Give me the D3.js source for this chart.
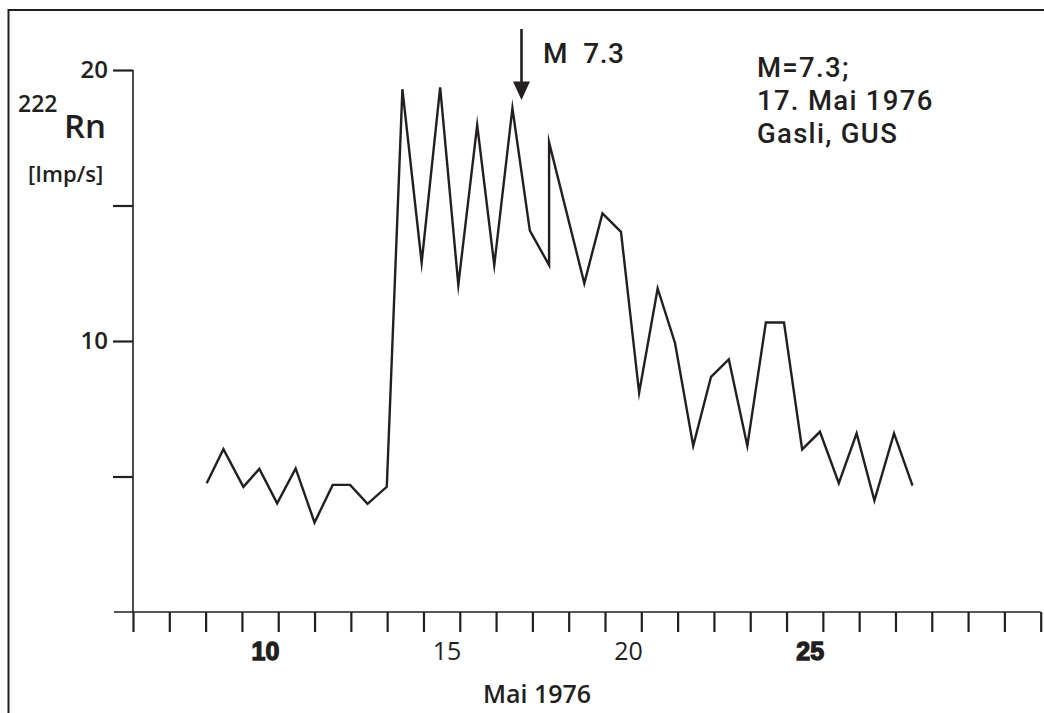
<!DOCTYPE html>
<html>
<head>
<meta charset="utf-8">
<script src="https://cdn.jsdelivr.net/npm/d3@7"></script>
<style>
  html, body { margin: 0; padding: 0; background: #fff; }
  svg { display: block; }
  text { font-family: "Open Sans", "Noto Sans", sans-serif; fill: #231f20; }
</style>
</head>
<body>
<svg id="chart" width="1044" height="713"></svg>
<script>
// ---- data ----
const days = [8.38, 8.84, 9.39, 9.83, 10.32, 10.83, 11.35, 11.85, 12.33, 12.81, 13.34,
  13.77, 14.30, 14.81, 15.31, 15.83, 16.30, 16.80, 17.28, 17.81, 17.81,
  18.78, 19.28, 19.79, 20.29, 20.80, 21.28, 21.78, 22.27, 22.76, 23.27,
  23.78, 24.28, 24.78, 25.27, 25.79, 26.28, 26.77, 27.31, 27.82];
const radon = [4.75, 6.01, 4.62, 5.28, 4.01, 5.30, 3.30, 4.69, 4.69, 3.99, 4.62,
  19.29, 12.89, 19.36, 12.07, 17.97, 12.80, 18.59, 14.07, 12.80, 17.33,
  12.13, 14.71, 14.03, 8.09, 11.94, 9.92, 6.13, 8.68, 9.32, 6.13,
  10.68, 10.68, 6.00, 6.65, 4.75, 6.59, 4.11, 6.59, 4.66];
const xTickDays = [6.35, 7.35, 8.35, 9.35, 10.35, 11.35, 12.35, 13.35, 14.35, 15.35,
  16.35, 17.35, 18.35, 19.35, 20.35, 21.35, 22.35, 23.35, 24.35, 25.35,
  26.35, 27.35, 28.35, 29.35, 30.35, 31.35];
const xLabelDays = [10, 15, 20, 25];
const xLabelText = ["10", "15", "20", "25"];
const xLabelHeavy = [true, false, false, true];
const yTickValues = [5, 10, 15, 20];
const yTickText = ["", "10", "", "20"];
const quakeDay = 17.05;
const quakeLabel = "M  7.3";
const infoLines = ["M=7.3;", "17. Mai 1976", "Gasli, GUS"];
const xTitle = "Mai 1976";

// ---- scales ----
const svg = d3.select("#chart");
const x = d3.scaleLinear().domain([6.35, 31.35]).range([133, 1040.7]);
const y = d3.scaleLinear().domain([0, 20]).range([612, 70]);
const ink = "#231f20";

// frame
svg.append("rect")
  .attr("x", 8.5).attr("y", 10).attr("width", 1050).attr("height", 740)
  .attr("fill", "none").attr("stroke", ink).attr("stroke-width", 2);

// x axis
const xAxis = d3.axisBottom(x).tickValues(xTickDays).tickSize(20).tickSizeOuter(0).tickFormat("");
const gx = svg.append("g").attr("transform", `translate(0,${y(0)})`).call(xAxis);
gx.select(".domain").remove();
gx.selectAll(".tick line").attr("stroke", ink).attr("stroke-width", 2.2);
svg.append("line")
  .attr("x1", x(6.35) - 19).attr("x2", x(31.35))
  .attr("y1", y(0)).attr("y2", y(0))
  .attr("stroke", ink).attr("stroke-width", 1.6);

// y axis
const yAxis = d3.axisLeft(y).tickValues(yTickValues).tickSize(20).tickSizeOuter(0)
  .tickPadding(5).tickFormat((d, i) => yTickText[i]);
const gy = svg.append("g").attr("transform", `translate(${x(6.35)},0)`).call(yAxis);
gy.select(".domain").attr("stroke", ink).attr("stroke-width", 1.6)
  .attr("d", `M0,${y(20)}V${y(0)}`);
gy.selectAll(".tick line").attr("stroke", ink).attr("stroke-width", 2.2);
gy.selectAll(".tick text")
  .style("font-family", '"Open Sans", sans-serif')
  .style("font-size", "24px").style("font-weight", 600).attr("fill", ink);

// x tick labels
svg.append("g").selectAll("text").data(xLabelDays).join("text")
  .attr("x", d => x(d))
  .attr("y", 660)
  .attr("text-anchor", "middle")
  .each(function(d, i) {
    const t = d3.select(this).text(xLabelText[i]);
    if (xLabelHeavy[i]) {
      t.style("font-family", '"Liberation Sans", Arial, sans-serif')
        .style("font-size", "25px").style("font-weight", 700)
        .attr("stroke", ink).attr("stroke-width", 1.3);
    } else {
      t.style("font-size", "25px").style("font-weight", 400);
    }
  });

// x title
svg.append("text").attr("x", 537).attr("y", 703).attr("text-anchor", "middle")
  .style("font-size", "25px").style("font-weight", 600).text(xTitle);

// y title
svg.append("text").attr("x", 18).attr("y", 111.5)
  .style("font-size", "23px").style("font-weight", 600).text("222");
svg.append("text").attr("x", 64).attr("y", 137.5)
  .style("font-size", "33px").style("font-weight", 600).text("Rn");
svg.append("text").attr("x", 28).attr("y", 182)
  .style("font-size", "22px").style("font-weight", 600).text("[Imp/s]");

// data line
const line = d3.line().x((d, i) => x(days[i])).y(d => y(d));
svg.append("path").datum(radon)
  .attr("d", line)
  .attr("fill", "none").attr("stroke", ink).attr("stroke-width", 2.4)
  .attr("stroke-linejoin", "miter").attr("stroke-miterlimit", 10);

// quake arrow
const ax = x(quakeDay);
svg.append("line").attr("x1", ax).attr("x2", ax).attr("y1", 29).attr("y2", 84)
  .attr("stroke", ink).attr("stroke-width", 2.6);
svg.append("path")
  .attr("d", `M${ax - 8.5},81.5L${ax + 8.5},81.5L${ax},100Z`)
  .attr("fill", ink);
svg.append("text").attr("x", 543).attr("y", 63.3)
  .style("font-family", "Roboto, sans-serif")
  .style("font-size", "28px").style("font-weight", 500)
  .style("letter-spacing", "0.6px")
  .attr("xml:space", "preserve").style("white-space", "pre").text(quakeLabel);

// info block
svg.append("g").selectAll("text").data(infoLines).join("text")
  .attr("x", 757).attr("y", (d, i) => 76.7 + i * 33)
  .style("font-family", "Roboto, sans-serif")
  .style("font-size", "27.5px").style("font-weight", 500)
  .style("letter-spacing", "1.3px")
  .text(d => d);
</script>
</body>
</html>
